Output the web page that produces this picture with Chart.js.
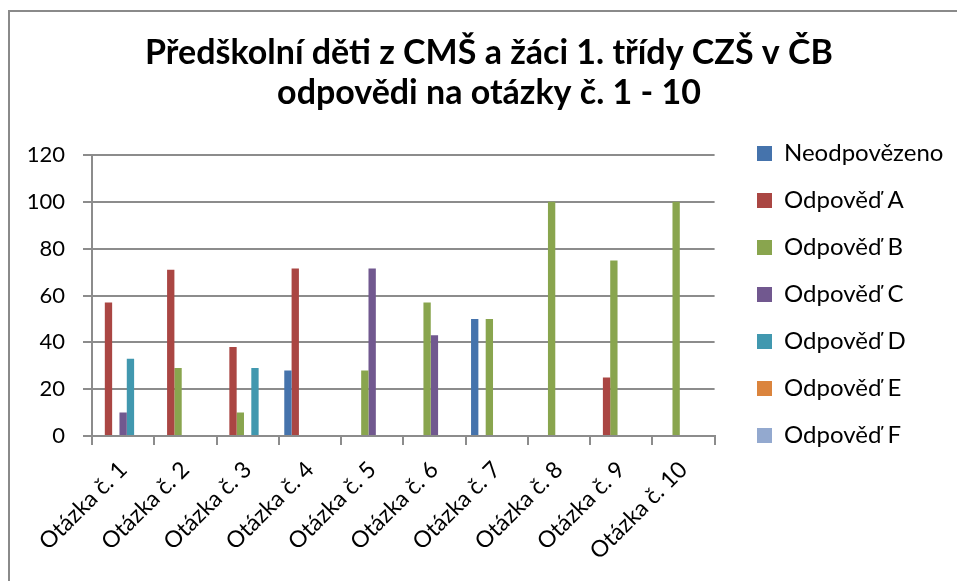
<!DOCTYPE html>
<html>
<head>
<meta charset="utf-8">
<script src="https://cdn.jsdelivr.net/npm/chart.js@4.4.0/dist/chart.umd.min.js"></script>
<style>
  html, body { margin: 0; padding: 0; background: #ffffff; }
  #wrap { position: relative; width: 957px; height: 581px; overflow: hidden; }
  #frame { position: absolute; left: 8px; top: 10px; width: 1000px; height: 1000px;
           border-left: 2px solid #8a8a8a; border-top: 2px solid #8a8a8a; pointer-events: none; }
  canvas { position: absolute; left: 0; top: 0; }
</style>
</head>
<body>
<div id="wrap">
  <canvas id="c" width="957" height="581"></canvas>
  <div id="frame"></div>
</div>
<script>
const titleLines = ["Předškolní děti z CMŠ a žáci 1. třídy CZŠ v ČB", "odpovědi na otázky č. 1 - 10"];
const categories = ["Otázka č. 1", "Otázka č. 2", "Otázka č. 3", "Otázka č. 4", "Otázka č. 5",
                    "Otázka č. 6", "Otázka č. 7", "Otázka č. 8", "Otázka č. 9", "Otázka č. 10"];
const seriesNames = ["Neodpovězeno", "Odpověď A", "Odpověď B", "Odpověď C", "Odpověď D", "Odpověď E", "Odpověď F"];
const neodpovezeno = [0, 0, 0, 28, 0, 0, 50, 0, 0, 0];
const odpovedA     = [57, 71, 38, 71.5, 0, 0, 0, 0, 25, 0];
const odpovedB     = [0, 29, 10, 0, 28, 57, 50, 100, 75, 100];
const odpovedC     = [10, 0, 0, 0, 71.5, 43, 0, 0, 0, 0];
const odpovedD     = [33, 0, 29, 0, 0, 0, 0, 0, 0, 0];
const odpovedE     = [0, 0, 0, 0, 0, 0, 0, 0, 0, 0];
const odpovedF     = [0, 0, 0, 0, 0, 0, 0, 0, 0, 0];
const yTicks = [0, 20, 40, 60, 80, 100, 120];

const seriesValues = [neodpovezeno, odpovedA, odpovedB, odpovedC, odpovedD, odpovedE, odpovedF];
const seriesColors = ["#4573ac", "#aa4643", "#89a54e", "#71588f", "#4198af", "#db843d", "#93a9cf"];

const gridColor = "#8c8c8c";
const FONT = "Lato";
const LEGEND_PAD = 23;

const blockShift = {
  id: 'blockShift',
  afterLayout(chart) {
    const lg = chart.legend;
    if (lg) {
      const dx = 757 - LEGEND_PAD - lg.left;
      const dy = 4;
      lg.left += dx; lg.right += dx;
      lg.top += dy; lg.bottom += dy;
    }
    const tb = chart.titleBlock;
    if (tb) {
      const tx = 22;
      tb.left += tx; tb.right += tx;
    }
  }
};

new Chart(document.getElementById('c'), {
  type: 'bar',
  data: {
    labels: categories,
    datasets: seriesNames.map((name, i) => ({
      label: name,
      data: seriesValues[i],
      backgroundColor: seriesColors[i],
      borderWidth: 0,
      categoryPercentage: 7 / 8.5,
      barPercentage: 1.0
    }))
  },
  options: {
    responsive: false,
    devicePixelRatio: 1,
    animation: false,
    layout: { padding: { left: 0, right: 23, top: 0, bottom: 0 } },
    plugins: {
      title: {
        display: true,
        text: titleLines,
        color: '#000000',
        font: { family: FONT, size: 34, weight: 'bold', lineHeight: 40 / 34 },
        padding: { top: 33, bottom: 42 }
      },
      legend: {
        display: true,
        position: 'right',
        align: 'center',
        labels: {
          color: '#000000',
          font: { family: FONT, size: 24 },
          boxWidth: 15,
          boxHeight: 15,
          padding: LEGEND_PAD
        }
      },
      tooltip: { enabled: false }
    },
    scales: {
      x: {
        grid: { display: true, offset: true, drawOnChartArea: false, drawTicks: true,
                tickLength: 9, color: gridColor, lineWidth: 2 },
        border: { display: true, color: gridColor, width: 2 },
        ticks: { color: '#000000', font: { family: FONT, size: 23 }, minRotation: 45, maxRotation: 45, padding: 11 },
        afterFit(scale) { scale.height = 145; }
      },
      y: {
        min: 0, max: 120,
        afterBuildTicks(scale) { scale.ticks = yTicks.map(v => ({ value: v })); },
        grid: { color: gridColor, lineWidth: 2, tickLength: 9, drawTicks: true },
        border: { display: true, color: gridColor, width: 2 },
        ticks: { color: '#000000', font: { family: FONT, size: 22 }, padding: 18 },
        afterFit(scale) { scale.width = 92; }
      }
    }
  },
  plugins: [blockShift]
});
</script>
</body>
</html>
